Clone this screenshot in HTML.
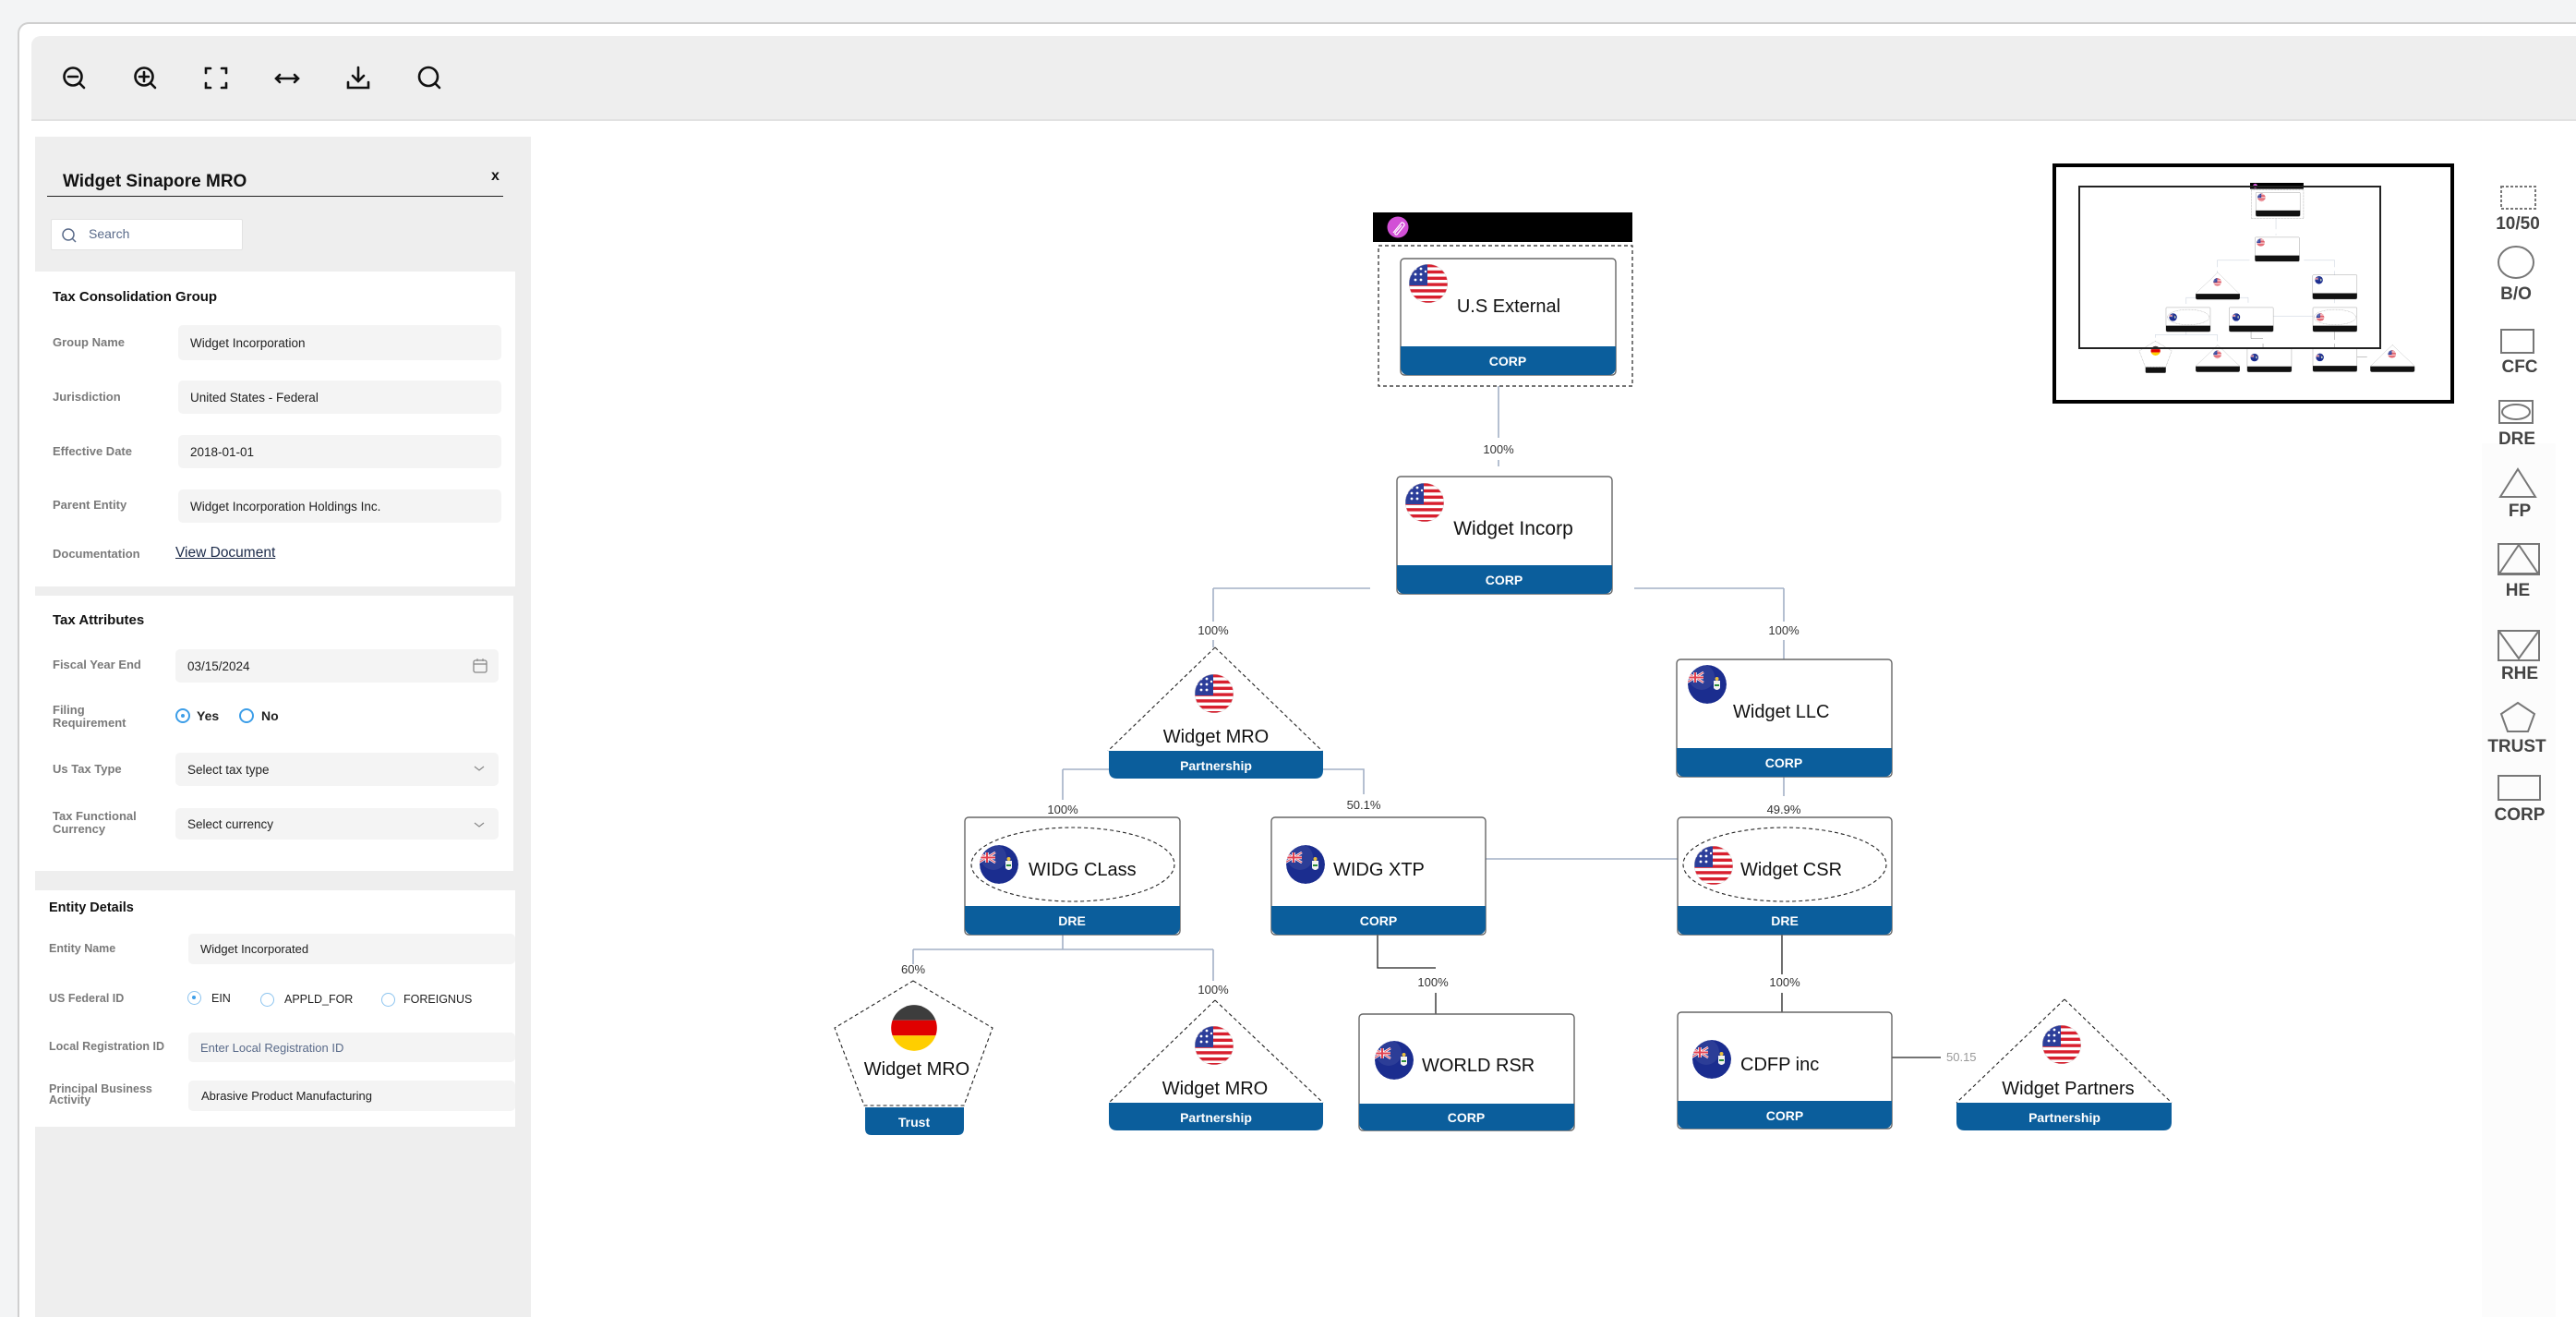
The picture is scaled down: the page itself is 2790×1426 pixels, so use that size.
<!DOCTYPE html>
<html style="width:2790px;height:1426px;overflow:hidden"><head><meta charset="utf-8"><style>
*{margin:0;padding:0;box-sizing:border-box}
body{width:2790px;height:1426px;background:#f3f4f5;font-family:"Liberation Sans",sans-serif;position:relative;overflow:hidden;color:#222}
.a{position:absolute}
#frame{left:19px;top:24px;width:2771px;height:1402px;background:#fff;border:2px solid #cfcfcf;border-bottom:none;border-right:none;border-radius:12px 0 0 0}
#tool{left:34px;top:39px;width:2756px;height:92px;background:#eeeeee;border-radius:10px 0 0 0;border-bottom:2px solid #e2e2e2}
#panel{left:38px;top:148px;width:537px;height:1278px;background:#eeeeee}
.sec{background:#fff}
.h{font-weight:bold;font-size:15px;color:#111}
.lb{font-size:13px;color:#7a7a7a;font-weight:bold;line-height:14px}
.in{background:#f4f4f4;border-radius:5px;font-size:13.5px;color:#222;padding-left:13px;display:flex;align-items:center}
.rad{width:16px;height:16px;border:2px solid #3d9ee8;border-radius:50%}
.rad.on::after{content:"";position:absolute;left:4px;top:4px;width:4px;height:4px;border-radius:50%;background:#3d9ee8}
.rad.lt{border-color:#8cc4ef;border-width:1.5px}
svg text{font-family:"Liberation Sans",sans-serif}
.bar{fill:var(--bar,#0b5e9c)}
</style></head><body>
<div class="a" id="frame"></div>
<div class="a" id="tool"></div>
<div class="a" id="panel"></div>

<div class="a" style="left:68px;top:186px;font-size:19px;font-weight:bold;color:#111">Widget Sinapore MRO</div>
<div class="a" style="left:532px;top:182px;font-size:16px;font-weight:bold;color:#111">x</div>
<div class="a" style="left:51px;top:212px;width:494px;height:1px;background:#222"></div>
<div class="a" style="left:55px;top:237px;width:208px;height:34px;background:#fff;border:1px solid #e2e2e2;border-radius:2px"></div>
<svg class="a" style="left:66px;top:246px" width="18" height="18"><circle cx="8" cy="8" r="6" fill="none" stroke="#5a6b8a" stroke-width="1.5"/><line x1="12.5" y1="12.5" x2="16" y2="16" stroke="#5a6b8a" stroke-width="1.5"/></svg>
<div class="a" style="left:96px;top:245px;font-size:14px;color:#5a6b8a">Search</div>

<div class="a sec" style="left:38px;top:294px;width:520px;height:341px"></div>
<div class="a h" style="left:57px;top:313px">Tax Consolidation Group</div>
<div class="a lb" style="left:57px;top:364px">Group Name</div>
<div class="a in" style="left:193px;top:352px;width:350px;height:38px">Widget Incorporation</div>
<div class="a lb" style="left:57px;top:423px">Jurisdiction</div>
<div class="a in" style="left:193px;top:412px;width:350px;height:36px">United States - Federal</div>
<div class="a lb" style="left:57px;top:482px">Effective Date</div>
<div class="a in" style="left:193px;top:471px;width:350px;height:36px">2018-01-01</div>
<div class="a lb" style="left:57px;top:540px">Parent Entity</div>
<div class="a in" style="left:193px;top:530px;width:350px;height:36px">Widget Incorporation Holdings Inc.</div>
<div class="a lb" style="left:57px;top:593px">Documentation</div>
<div class="a" style="left:190px;top:590px;font-size:15.5px;color:#1c2b4a;text-decoration:underline;font-weight:500">View Document</div>

<div class="a sec" style="left:38px;top:645px;width:518px;height:298px"></div>
<div class="a h" style="left:57px;top:663px">Tax Attributes</div>
<div class="a lb" style="left:57px;top:713px">Fiscal Year End</div>
<div class="a in" style="left:190px;top:703px;width:350px;height:36px">03/15/2024</div>
<svg class="a" style="left:511px;top:712px" width="18" height="18"><rect x="2" y="3" width="14" height="13" rx="2" fill="none" stroke="#888" stroke-width="1.3"/><line x1="2" y1="7" x2="16" y2="7" stroke="#888" stroke-width="1.3"/><line x1="6" y1="1" x2="6" y2="4" stroke="#888"/><line x1="12" y1="1" x2="12" y2="4" stroke="#888"/></svg>
<div class="a lb" style="left:57px;top:762px">Filing<br>Requirement</div>
<div class="a rad on" style="left:190px;top:767px"></div>
<div class="a" style="left:213px;top:767px;font-size:14px;font-weight:bold">Yes</div>
<div class="a rad" style="left:259px;top:767px"></div>
<div class="a" style="left:283px;top:767px;font-size:14px;font-weight:bold">No</div>
<div class="a lb" style="left:57px;top:826px">Us Tax Type</div>
<div class="a in" style="left:190px;top:815px;width:350px;height:36px">Select tax type</div>
<div class="a lb" style="left:57px;top:877px">Tax Functional<br>Currency</div>
<div class="a in" style="left:190px;top:875px;width:350px;height:34px">Select currency</div>
<svg class="a" style="left:512px;top:826px" width="14" height="80"><polyline points="2,4 7,8 12,4" fill="none" stroke="#888" stroke-width="1.2"/><polyline points="2,65 7,69 12,65" fill="none" stroke="#888" stroke-width="1.2"/></svg>

<div class="a sec" style="left:38px;top:964px;width:520px;height:256px"></div>
<div class="a h" style="left:53px;top:975px;font-size:14.5px">Entity Details</div>
<div class="a lb" style="left:53px;top:1020px;font-size:12.5px">Entity Name</div>
<div class="a in" style="left:204px;top:1011px;width:354px;height:33px;font-size:13px">Widget Incorporated</div>
<div class="a lb" style="left:53px;top:1074px;font-size:12.5px">US Federal ID</div>
<div class="a rad on lt" style="left:203px;top:1073px;width:15px;height:15px"></div>
<div class="a" style="left:229px;top:1074px;font-size:12.5px">EIN</div>
<div class="a rad lt" style="left:282px;top:1075px;width:15px;height:15px"></div>
<div class="a" style="left:308px;top:1075px;font-size:12.5px">APPLD_FOR</div>
<div class="a rad lt" style="left:413px;top:1075px;width:15px;height:15px"></div>
<div class="a" style="left:437px;top:1075px;font-size:12.5px">FOREIGNUS</div>
<div class="a lb" style="left:53px;top:1126px;font-size:12.5px">Local Registration ID</div>
<div class="a in" style="left:204px;top:1118px;width:354px;height:32px;font-size:13px;color:#5a6b8a">Enter Local Registration ID</div>
<div class="a lb" style="left:53px;top:1173px;font-size:12.5px;line-height:12px">Principal Business<br>Activity</div>
<div class="a in" style="left:204px;top:1170px;width:354px;height:33px;font-size:13px;padding-left:14px">Abrasive Product Manufacturing</div>

<svg class="a" style="left:0;top:0" width="2790" height="1426" viewBox="0 0 2790 1426">
<defs>
<clipPath id="cc"><circle cx="22" cy="22" r="21"/></clipPath>
<symbol id="us" viewBox="0 0 44 44"><g clip-path="url(#cc)">
<rect width="44" height="44" fill="#fff"/>
<rect y="1" width="44" height="3.4" fill="#d81f2e"/><rect y="7.8" width="44" height="3.4" fill="#d81f2e"/><rect y="14.6" width="44" height="3.4" fill="#d81f2e"/><rect y="21.4" width="44" height="3.4" fill="#d81f2e"/><rect y="28.2" width="44" height="3.4" fill="#d81f2e"/><rect y="35" width="44" height="3.4" fill="#d81f2e"/><rect y="41" width="44" height="3.4" fill="#d81f2e"/>
<rect width="21" height="24" fill="#2c3e9a"/>
<g fill="#fff"><circle cx="8" cy="6" r="1.4"/><circle cx="14" cy="6" r="1.4"/><circle cx="8" cy="12" r="1.4"/><circle cx="14" cy="12" r="1.4"/><circle cx="8" cy="18" r="1.4"/><circle cx="14" cy="18" r="1.4"/><circle cx="3" cy="12" r="1.2"/><circle cx="19" cy="9" r="1.2"/></g>
<circle cx="22" cy="22" r="21" fill="none" stroke="#ccc" stroke-width="0.8"/></g></symbol>
<symbol id="ky" viewBox="0 0 44 44"><g clip-path="url(#cc)">
<circle cx="22" cy="22" r="21" fill="#1b2d8f"/>
<rect x="0" y="9" width="18" height="11" fill="#1b2d8f"/>
<path d="M0 9 L18 20 M18 9 L0 20" stroke="#fff" stroke-width="2.5"/>
<path d="M0 9 L18 20 M18 9 L0 20" stroke="#e03040" stroke-width="1"/>
<path d="M9 9 V20 M0 14.5 H18" stroke="#fff" stroke-width="3.5"/>
<path d="M9 9 V20 M0 14.5 H18" stroke="#e03040" stroke-width="2"/>
<path d="M29 18 h7 v8 q-3.5 4 -7 0 z" fill="#f2f2f2"/><rect x="30" y="22" width="5" height="2" fill="#2a8c3a"/><circle cx="32.5" cy="16" r="2" fill="#e8c040"/>
<circle cx="16" cy="14" r="14" fill="#fff" opacity="0.08"/></g></symbol>
<symbol id="de" viewBox="0 0 44 44"><g clip-path="url(#cc)">
<rect width="44" height="15" fill="#3d3d3d"/><rect y="15" width="44" height="14" fill="#e00000"/><rect y="29" width="44" height="15" fill="#ffce00"/></g></symbol>
</defs>

<g stroke="#111" stroke-width="2.6" fill="none" stroke-linecap="round">
<circle cx="79" cy="83" r="9.5"/><line x1="86" y1="90" x2="91" y2="95"/><line x1="74" y1="83" x2="84" y2="83"/>
<circle cx="156" cy="83" r="9.5"/><line x1="163" y1="90" x2="168" y2="95"/><line x1="151" y1="83" x2="161" y2="83"/><line x1="156" y1="78" x2="156" y2="88"/>
<path d="M223 79 v-5 h5 M240 74 h5 v5 M245 90 v5 h-5 M228 95 h-5 v-5"/>
<path d="M299 85 h24 M303 81 l-4 4 4 4 M319 81 l4 4 -4 4"/>
<path d="M388 73 v15 M382 82 l6 6 6 -6 M377 89 v6 h22 v-6"/>
<circle cx="464" cy="83" r="10"/><line x1="471" y1="90" x2="476" y2="95"/>
</g>

<g id="shapes">
<g stroke="#a3b1c6" stroke-width="1.6" fill="none">
<path d="M1623 418 V474 M1623 498 V505"/>
<path d="M1314 637 H1484 M1770 637 H1932 M1314 637 V673 M1314 693 V701 M1932 637 V673 M1932 693 V714"/>
<path d="M1151 833 H1201 M1151 833 V866 M1433 833 H1477 V860"/>
<path d="M1932 841 V862"/>
<path d="M1609 930 H1817"/>
<path d="M1151 1012 V1028 M989 1028 H1314 M989 1028 V1044 M1314 1028 V1062"/>
</g>
<g stroke="#222" stroke-width="1.3" fill="none">
<path d="M1492 1012 V1048 H1555 M1555 1075 V1098"/>
<path d="M1930 1012 V1055 M1930 1075 V1096"/>
<path d="M2049 1145 H2102"/>
</g>
<rect x="1487" y="230" width="281" height="32" fill="#000"/>
<circle cx="1514" cy="246" r="11.5" fill="#d24fd6"/>
<path d="M1509 252 l9 -11 a2.5 2.5 0 0 1 3 3 l-8 10 a1.5 1.5 0 0 1 -2 -2 l7 -8" stroke="#fff" stroke-width="1.2" fill="none"/>
<rect x="1493" y="266" width="275" height="152" fill="none" stroke="#222" stroke-width="1.2" stroke-dasharray="4 3"/>
<g stroke="#666" stroke-width="1.4" fill="#fff">
<rect x="1517" y="280" width="233" height="126" rx="4"/>
<rect x="1513" y="516" width="233" height="127" rx="4"/>
<rect x="1816" y="714" width="233" height="127" rx="4"/>
<rect x="1045" y="885" width="233" height="127" rx="4"/>
<rect x="1377" y="885" width="232" height="127" rx="4"/>
<rect x="1817" y="885" width="232" height="127" rx="4"/>
<rect x="1472" y="1098" width="233" height="126" rx="4"/>
<rect x="1817" y="1096" width="232" height="126" rx="4"/>
</g>
<g class="bar">
<path d="M1517 375 H1750 V397 Q1750 406 1741 406 H1526 Q1517 406 1517 397Z"/>
<path d="M1513 612 H1746 V634 Q1746 643 1737 643 H1522 Q1513 643 1513 634Z"/>
<path d="M1816 810 H2049 V832 Q2049 841 2040 841 H1825 Q1816 841 1816 832Z"/>
<path d="M1045 981 H1278 V1003 Q1278 1012 1269 1012 H1054 Q1045 1012 1045 1003Z"/>
<path d="M1377 981 H1609 V1003 Q1609 1012 1600 1012 H1386 Q1377 1012 1377 1003Z"/>
<path d="M1817 981 H2049 V1003 Q2049 1012 2040 1012 H1826 Q1817 1012 1817 1003Z"/>
<path d="M1472 1195 H1705 V1215 Q1705 1224 1696 1224 H1481 Q1472 1224 1472 1215Z"/>
<path d="M1817 1192 H2049 V1213 Q2049 1222 2040 1222 H1826 Q1817 1222 1817 1213Z"/>
<path d="M1201 813 H1433 V834 Q1433 843 1424 843 H1210 Q1201 843 1201 834Z"/>
<path d="M1201 1194 H1433 V1215 Q1433 1224 1424 1224 H1210 Q1201 1224 1201 1215Z"/>
<path d="M2119 1194 H2352 V1215 Q2352 1224 2343 1224 H2128 Q2119 1224 2119 1215Z"/>
<path d="M937 1199 H1044 V1222 Q1044 1229 1037 1229 H944 Q937 1229 937 1222Z"/>
</g>
<g fill="none" stroke="#222" stroke-width="1.1" stroke-dasharray="4 3">
<path d="M1316 701 L1432 813 M1316 701 L1200 813"/>
<path d="M1316 1083 L1433 1194 M1316 1083 L1201 1194"/>
<path d="M2236 1082 L2352 1194 M2236 1082 L2119 1194"/>
<path d="M989 1062 L1075 1113 L1044 1197 L936 1197 L904 1113 Z"/>
<ellipse cx="1162" cy="936" rx="110" ry="40"/>
<ellipse cx="1933" cy="936" rx="110" ry="40"/>
</g>
<use href="#us" x="1525" y="285" width="44" height="44"/>
<use href="#us" x="1521" y="522" width="44" height="44"/>
<use href="#ky" x="1827" y="719" width="44" height="44"/>
<use href="#ky" x="1060" y="914" width="44" height="44"/>
<use href="#ky" x="1392" y="914" width="44" height="44"/>
<use href="#us" x="1834" y="915" width="44" height="44"/>
<use href="#ky" x="1488" y="1126" width="44" height="44"/>
<use href="#ky" x="1832" y="1125" width="44" height="44"/>
<use href="#us" x="1293" y="729" width="44" height="44"/>
<use href="#us" x="1293" y="1110" width="44" height="44"/>
<use href="#us" x="2211" y="1109" width="44" height="44"/>
<use href="#de" x="964" y="1087" width="52" height="52"/>
</g>

<g font-size="13" fill="#333" text-anchor="middle">
<text x="1623" y="491">100%</text>
<text x="1314" y="687">100%</text>
<text x="1932" y="687">100%</text>
<text x="1151" y="881">100%</text>
<text x="1477" y="876">50.1%</text>
<text x="1932" y="881">49.9%</text>
<text x="989" y="1054">60%</text>
<text x="1314" y="1076">100%</text>
<text x="1552" y="1068">100%</text>
<text x="1933" y="1068">100%</text>
</g>
<text x="2108" y="1149" font-size="13" fill="#999">50.15</text>

<g font-size="20" fill="#111" font-weight="500">
<text x="1634" y="338" text-anchor="middle">U.S External</text>
<text x="1639" y="579" text-anchor="middle" font-size="21">Widget Incorp</text>
<text x="1877" y="777">Widget LLC</text>
<text x="1114" y="948">WIDG CLass</text>
<text x="1444" y="948">WIDG XTP</text>
<text x="1885" y="948">Widget CSR</text>
<text x="1540" y="1160">WORLD RSR</text>
<text x="1885" y="1159">CDFP inc</text>
<text x="1317" y="804" text-anchor="middle">Widget MRO</text>
<text x="1316" y="1185" text-anchor="middle">Widget MRO</text>
<text x="2240" y="1185" text-anchor="middle">Widget Partners</text>
<text x="993" y="1164" text-anchor="middle">Widget MRO</text>
</g>
<g font-size="14" fill="#fff" font-weight="bold" text-anchor="middle">
<text x="1633" y="396">CORP</text>
<text x="1629" y="633">CORP</text>
<text x="1932" y="831">CORP</text>
<text x="1161" y="1002">DRE</text>
<text x="1493" y="1002">CORP</text>
<text x="1933" y="1002">DRE</text>
<text x="1588" y="1215">CORP</text>
<text x="1933" y="1213">CORP</text>
<text x="1317" y="834">Partnership</text>
<text x="1317" y="1215">Partnership</text>
<text x="2236" y="1215">Partnership</text>
<text x="990" y="1220">Trust</text>
</g>

<rect x="2225" y="179" width="431" height="256" fill="#fff" stroke="#000" stroke-width="4"/>
<use href="#shapes" transform="translate(2130.7 150.6) scale(0.206)" style="--bar:#111"/>
<rect x="2252" y="202" width="326" height="175" fill="none" stroke="#222" stroke-width="2"/>

<rect x="2688" y="480" width="80" height="946" fill="#fcfcfc"/>
<g fill="none" stroke="#777" stroke-width="2">
<rect x="2709" y="202" width="37" height="24" stroke-dasharray="3 2"/>
<ellipse cx="2725" cy="284" rx="19" ry="17"/>
<rect x="2709" y="357" width="35" height="25"/>
<rect x="2707" y="434" width="36" height="24"/><ellipse cx="2725" cy="446" rx="15" ry="8"/>
<path d="M2727 508 L2746 538 H2708 Z"/>
<rect x="2706" y="589" width="44" height="33"/><path d="M2728 590 L2749 621 H2707 Z"/>
<rect x="2706" y="683" width="44" height="32"/><path d="M2707 684 L2728 713 L2749 684"/>
<path d="M2727 761 L2745 773 L2738 792 H2716 L2709 773 Z"/>
<rect x="2706" y="840" width="45" height="26"/>
</g>
<g font-size="19" fill="#444" font-weight="bold" text-anchor="middle">
<text x="2727" y="248">10/50</text>
<text x="2725" y="324">B/O</text>
<text x="2729" y="403">CFC</text>
<text x="2726" y="481">DRE</text>
<text x="2729" y="559">FP</text>
<text x="2727" y="645">HE</text>
<text x="2729" y="735">RHE</text>
<text x="2726" y="814">TRUST</text>
<text x="2729" y="888">CORP</text>
</g>
</svg>
</body></html>
